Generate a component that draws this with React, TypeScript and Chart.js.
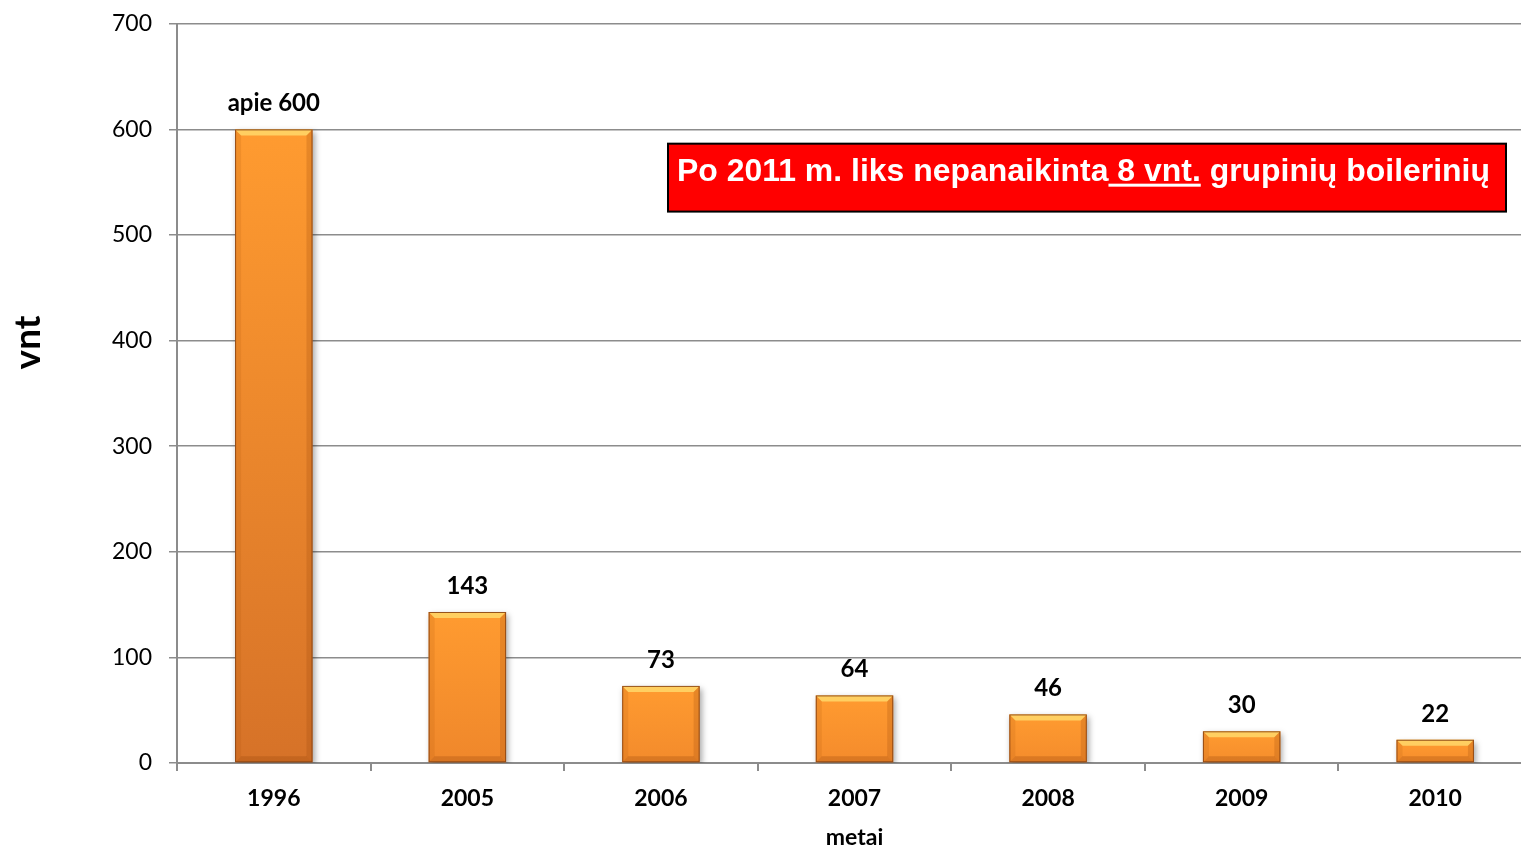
import React, { useEffect, useRef } from "react";
import { Chart, registerables } from "chart.js";

Chart.register(...registerables);

const categories = ["1996", "2005", "2006", "2007", "2008", "2009", "2010"];
const values = [600, 143, 73, 64, 46, 30, 22];
const valueLabels = ["apie 600", "143", "73", "64", "46", "30", "22"];
const yTicks = [0, 100, 200, 300, 400, 500, 600, 700];
const yTitle = "vnt";
const xTitle = "metai";
const noteBefore = "Po 2011 m. liks nepanaikinta";
const noteUnder = " 8 vnt.";
const noteAfter = " grupinių boilerinių";

const CANVAS_W = 1532;
const CANVAS_H = 854;
const SHIFT_Y = -7;

function mix(a: number[], b: number[], t: number) {
  const c = a.map((v, i) => Math.round(v + (b[i] - v) * t));
  return `rgb(${c[0]},${c[1]},${c[2]})`;
}

const barPlugin = {
  id: "barExtras",
  beforeDatasetsDraw(chart: any) {
    const ctx = chart.ctx;
    ctx.save();
    ctx.shadowColor = "rgba(0,0,0,0.35)";
    ctx.shadowBlur = 6;
    ctx.shadowOffsetX = 2;
    ctx.shadowOffsetY = 3;
  },
  afterDatasetsDraw(chart: any) {
    const ctx = chart.ctx;
    ctx.restore();
    const meta = chart.getDatasetMeta(0);
    meta.data.forEach((bar: any) => {
      const l = bar.x - bar.width / 2;
      const r = bar.x + bar.width / 2;
      const t = bar.y;
      const b = bar.base;
      const bw = Math.min(6, (b - t) / 3);
      ctx.save();
      ctx.fillStyle = "rgba(255,220,110,0.8)";
      ctx.beginPath();
      ctx.moveTo(l, t);
      ctx.lineTo(r, t);
      ctx.lineTo(r - bw, t + bw);
      ctx.lineTo(l + bw, t + bw);
      ctx.closePath();
      ctx.fill();
      ctx.fillStyle = "rgba(150,70,10,0.28)";
      ctx.beginPath();
      ctx.moveTo(l, b);
      ctx.lineTo(r, b);
      ctx.lineTo(r - bw, b - bw);
      ctx.lineTo(l + bw, b - bw);
      ctx.closePath();
      ctx.fill();
      ctx.fillStyle = "rgba(170,80,10,0.15)";
      ctx.beginPath();
      ctx.moveTo(l, t);
      ctx.lineTo(l + bw, t + bw);
      ctx.lineTo(l + bw, b - bw);
      ctx.lineTo(l, b);
      ctx.closePath();
      ctx.fill();
      ctx.fillStyle = "rgba(150,70,10,0.22)";
      ctx.beginPath();
      ctx.moveTo(r, t);
      ctx.lineTo(r - bw, t + bw);
      ctx.lineTo(r - bw, b - bw);
      ctx.lineTo(r, b);
      ctx.closePath();
      ctx.fill();
      ctx.strokeStyle = "rgba(140,70,20,0.9)";
      ctx.lineWidth = 1;
      ctx.strokeRect(l + 0.5, t + 0.5, r - l - 1, b - t - 1);
      ctx.restore();
    });
    ctx.save();
    ctx.font = "bold 24px Lato";
    ctx.fillStyle = "#000";
    ctx.textAlign = "center";
    ctx.textBaseline = "middle";
    meta.data.forEach((bar: any, i: number) => {
      ctx.fillText(valueLabels[i], bar.x, bar.y - 26);
    });
    ctx.restore();
  },
  afterDraw(chart: any) {
    const ctx = chart.ctx;
    const ca = chart.chartArea;
    const w = ca.right - ca.left;
    const h = ca.bottom - ca.top;
    ctx.save();
    ctx.fillStyle = "#000";
    ctx.textAlign = "center";
    ctx.textBaseline = "middle";
    ctx.font = "bold 23px Lato";
    ctx.fillText(xTitle, ca.left + w / 2, ca.bottom + 75);
    ctx.translate(28, ca.top + h * ((342 - 23) / 740));
    ctx.rotate(-Math.PI / 2);
    ctx.font = "bold 37px Lato";
    ctx.fillText(yTitle, 0, 0);
    ctx.restore();

    const x0 = 668;
    const x1 = 1506;
    const y0 = ca.top + h * ((143 - 23) / 740);
    const y1 = ca.top + h * ((211 - 23) / 740);
    ctx.save();
    ctx.fillStyle = "#FF0000";
    ctx.fillRect(x0, y0, x1 - x0, y1 - y0);
    ctx.strokeStyle = "#000";
    ctx.lineWidth = 2;
    ctx.strokeRect(x0, y0, x1 - x0, y1 - y0);
    ctx.font = "bold 32px 'Liberation Sans'";
    ctx.fillStyle = "#fff";
    ctx.textBaseline = "alphabetic";
    ctx.textAlign = "left";
    const full = noteBefore + noteUnder + noteAfter;
    const fullW = ctx.measureText(full).width;
    const targetW = 813;
    const sx = targetW / fullW;
    ctx.translate(x0 + 9, y0 + 37);
    ctx.scale(sx, 1);
    ctx.fillText(full, 0, 0);
    const wb = ctx.measureText(noteBefore).width;
    const wu = ctx.measureText(noteUnder).width;
    ctx.fillRect(wb, 3, wu, 3);
    ctx.restore();
  },
};

export default function App() {
  const ref = useRef<HTMLCanvasElement>(null);
  useEffect(() => {
    document.body.style.margin = "0";
    const canvas = ref.current!;
    const chart = new Chart(canvas, {
      type: "bar",
      data: {
        labels: categories,
        datasets: [
          {
            data: values,
            backgroundColor: (c: any) => {
              const chart = c.chart;
              const ys = chart.scales && chart.scales.y;
              if (!ys || c.raw === undefined) return "#F08A2C";
              const top = ys.getPixelForValue(c.raw);
              const bottom = ys.getPixelForValue(0);
              if (!isFinite(top) || !isFinite(bottom) || bottom - top < 1) return "#F08A2C";
              const frac = Math.min(1, (bottom - top) / 640);
              const g = chart.ctx.createLinearGradient(0, top, 0, bottom);
              g.addColorStop(0, "#FF9B30");
              g.addColorStop(1, mix([247, 142, 44], [214, 114, 40], frac));
              return g;
            },
            borderWidth: 0,
            barPercentage: 0.8,
            categoryPercentage: 0.5,
          },
        ],
      },
      options: {
        responsive: false,
        animation: false,
        layout: { padding: { top: 0, right: 0, left: 0, bottom: 0 } },
        plugins: {
          legend: { display: false },
          tooltip: { enabled: false },
        },
        scales: {
          x: {
            afterFit: (axis: any) => {
              axis.height = 84;
            },
            grid: {
              display: true,
              drawOnChartArea: false,
              drawTicks: true,
              tickLength: 8,
              color: "#8C8C8C",
              lineWidth: 2,
              offset: true,
            },
            border: { display: true, color: "#8C8C8C", width: 2 },
            ticks: {
              color: "#000",
              font: { family: "Lato", size: 23, weight: "bold" },
              padding: 14,
            },
          },
          y: {
            min: 0,
            max: 700,
            afterBuildTicks: (axis: any) => {
              axis.ticks = yTicks.map((v) => ({ value: v }));
            },
            afterFit: (axis: any) => {
              axis.width = 177;
            },
            grid: {
              color: "#8C8C8C",
              lineWidth: 1.5,
              tickLength: 8,
            },
            border: { display: true, color: "#8C8C8C", width: 2 },
            ticks: {
              color: "#000",
              font: { family: "Lato", size: 23 },
              padding: 17,
            },
          },
        },
      },
      plugins: [barPlugin],
    } as any);
    return () => chart.destroy();
  }, []);
  return (
    <div
      style={{
        position: "absolute",
        left: 0,
        top: 0,
        width: 1521,
        height: 847,
        overflow: "hidden",
      }}
    >
      <canvas
        ref={ref}
        width={CANVAS_W}
        height={CANVAS_H}
        style={{ position: "absolute", left: 0, top: SHIFT_Y, width: CANVAS_W, height: CANVAS_H }}
      />
    </div>
  );
}
